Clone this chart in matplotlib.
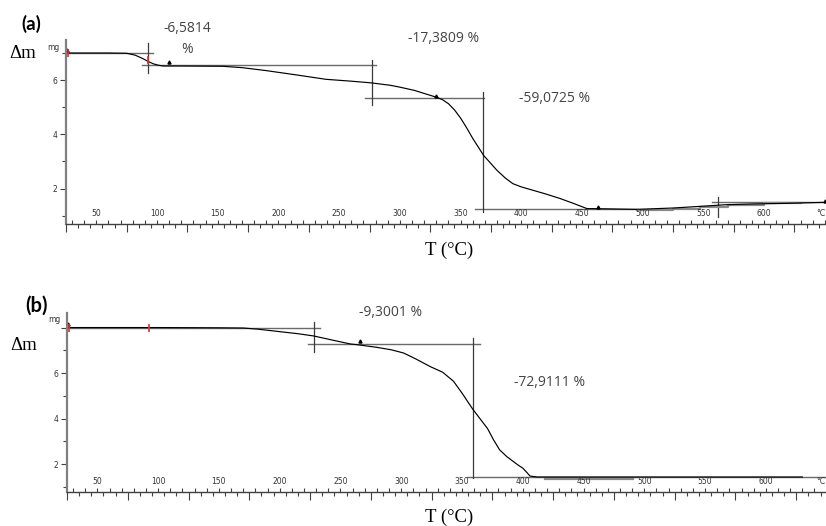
import matplotlib.pyplot as plt
import numpy as np

# ---- data (TGA curves, mass in mg vs temperature in C)
a_temp = [25.3, 40, 60, 75, 82, 88, 93, 97, 101, 105, 120, 154, 170, 190, 215,
          239, 260, 276, 292, 300, 312, 322, 330, 335, 340, 345, 350, 355, 360,
          365, 369, 375, 380, 387, 393, 400, 410, 420, 432, 443, 454, 470, 495,
          525, 547, 568, 590, 616, 651]
a_mass = [7.00, 7.00, 7.00, 6.99, 6.92, 6.80, 6.68, 6.60, 6.55, 6.52, 6.52, 6.51,
          6.46, 6.35, 6.19, 6.03, 5.96, 5.90, 5.81, 5.74, 5.62, 5.48, 5.37, 5.28,
          5.13, 4.90, 4.60, 4.24, 3.85, 3.50, 3.22, 2.92, 2.67, 2.38, 2.18, 2.06,
          1.93, 1.80, 1.63, 1.45, 1.26, 1.25, 1.23, 1.28, 1.34, 1.40, 1.43, 1.45,
          1.49]
a_step_temp = [495, 525, 525, 547, 547, 570, 570, 600, 600, 630]
a_step_mass = [1.21, 1.21, 1.26, 1.26, 1.32, 1.32, 1.39, 1.39, 1.45, 1.45]

b_temp = [25.3, 100, 150, 170, 182, 200, 215, 228, 245, 258, 266, 280, 292, 302,
          312, 324, 334, 343, 350, 359, 365, 371, 376, 381, 387, 392, 396, 400,
          403, 406, 412, 450, 500, 550, 630]
b_mass = [8.00, 8.00, 7.99, 7.98, 7.93, 7.82, 7.73, 7.63, 7.43, 7.28, 7.23, 7.13,
          7.02, 6.88, 6.62, 6.28, 6.04, 5.64, 5.12, 4.40, 3.98, 3.56, 3.06, 2.62,
          2.32, 2.12, 1.96, 1.82, 1.65, 1.47, 1.43, 1.43, 1.43, 1.43, 1.43]
b_step_temp = [418, 491]
b_step_mass = [1.36, 1.36]

# tangent / step construction lines: (mass, T start, T end) and (T, mass lo, mass hi)
a_hlines = [(7.00, 25.3, 96.5), (6.56, 87.5, 280), (5.34, 271, 369),
            (1.24, 362, 495), (1.49, 557, 651)]
a_vlines = [(92.8, 6.26, 7.37), (277, 5.07, 6.74), (368.5, 1.14, 5.57),
            (562, 0.94, 1.68)]
b_hlines = [(8.00, 25.3, 233), (7.26, 223, 365), (1.43, 354, 649.5)]
b_vlines = [(228.5, 6.94, 8.26), (359, 1.38, 7.52)]

a_marks_t = [25.8, 109.6, 329.6, 463, 650]
a_marks_m = [7.12, 6.66, 5.40, 1.32, 1.55]
a_red_t = [26.5, 92.6]
a_red_m = [7.00, 6.74]
b_marks_t = [26, 266]
b_marks_m = [8.14, 7.40]
b_red_t = [26.5, 92.8]
b_red_m = [8.00, 8.00]

a_steps = ["-6,5814\n%", "-17,3809 %", "-59,0725 %"]
b_steps = ["-9,3001 %", "-72,9111 %"]

x_labels = [50, 100, 150, 200, 250, 300, 350, 400, 450, 500, 550, 600]

W, H = 826, 526


def fx(px):
    return px / W


def fy(py):
    return 1 - py / H


def setup_axis(ax, xlim, ylim, yminor, label_off):
    ax.set_xlim(*xlim)
    ax.set_ylim(*ylim)
    for s in ["top", "right"]:
        ax.spines[s].set_visible(False)
    ax.spines["left"].set_color("#808080")
    ax.spines["left"].set_linewidth(1.6)
    ax.spines["bottom"].set_color("#404040")
    ax.spines["bottom"].set_linewidth(1.0)
    ax.set_facecolor("none")

    # y ticks
    ax.set_yticks([2, 4, 6])
    ax.set_yticks(yminor, minor=True)
    ax.tick_params(axis="y", which="major", length=4, width=0.8, color="#404040",
                   labelsize=5.5, pad=2, labelcolor="#333333")
    ax.tick_params(axis="y", which="minor", length=3, width=0.8, color="#404040")

    # x ticks: long outward every 50 from 25, short outward every 10
    ax.set_xticks(np.arange(25, 651, 50))
    ax.set_xticks(np.arange(35, 651, 10), minor=True)
    ax.tick_params(axis="x", which="major", length=6, width=0.8, color="#404040",
                   labelbottom=False)
    ax.tick_params(axis="x", which="minor", length=3, width=0.8, color="#404040")
    sec = ax.secondary_xaxis("bottom")
    sec.set_xticks(np.arange(30, 651, 10))
    sec.tick_params(direction="in", length=3, width=0.8, color="#404040",
                    labelbottom=False)
    sec.spines["bottom"].set_visible(False)

    trans = ax.get_xaxis_transform()
    for t in x_labels:
        ax.text(t, label_off, str(t), transform=trans, ha="center", va="center",
                fontsize=5.5, color="#333333")
    ax.text(xlim[1] - 4, label_off, "°C", transform=trans, ha="center",
            va="center", fontsize=5.5, color="#333333", clip_on=False)


def draw_panel(ax, temp, mass, st, sm, hl, vl, mt, mm, rt, rm):
    for m, t0, t1 in hl:
        ax.plot([t0, t1], [m, m], color="#6a6a6a", lw=1.0, clip_on=False)
    for t, m0, m1 in vl:
        ax.plot([t, t], [m0, m1], color="#3a3a3a", lw=0.9, clip_on=False)
    ax.plot(st, sm, color="#8a8a8a", lw=1.6, clip_on=False)
    ax.plot(temp, mass, color="black", lw=0.85, clip_on=False)
    ax.plot(mt, mm, ls="none", marker="^", ms=2.2, color="black", clip_on=False)
    ax.plot(rt, rm, ls="none", marker="|", ms=6, mew=1.2, color="#e03030",
            clip_on=False, zorder=5)


plt.rcParams["font.family"] = ["DejaVu Sans"]
fig = plt.figure(figsize=(W / 100, H / 100), dpi=100)

# panel (a)
ax_a = fig.add_axes([fx(66), fy(224), fx(826 - 66), (224 - 40) / H])
setup_axis(ax_a, (25.3, 651), (0.69, 7.48), [1, 3, 5, 7], 11 / 184)
draw_panel(ax_a, a_temp, a_mass, a_step_temp, a_step_mass, a_hlines, a_vlines,
           a_marks_t, a_marks_m, a_red_t, a_red_m)

# panel (b)
ax_b = fig.add_axes([fx(67), fy(492), fx(826 - 67), (492 - 313) / H])
setup_axis(ax_b, (25.3, 649.5), (0.77, 8.64), [1, 3, 5, 7], 10 / 179)
ax_b.set_yticks([2, 4, 6, 8])
ax_b.set_yticklabels(["2", "4", "6", ""])
draw_panel(ax_b, b_temp, b_mass, b_step_temp, b_step_mass, b_hlines, b_vlines,
           b_marks_t, b_marks_m, b_red_t, b_red_m)

# annotations
pct = dict(ha="center", va="center", fontsize=10, color="#444444",
           family=["Open Sans", "DejaVu Sans"])
fig.text(fx(187), fy(39), a_steps[0], linespacing=1.55, **pct)
fig.text(fx(444), fy(38), a_steps[1], **pct)
fig.text(fx(555), fy(98), a_steps[2], **pct)
fig.text(fx(391), fy(312), b_steps[0], **pct)
fig.text(fx(550), fy(382), b_steps[1], **pct)

serif = dict(ha="center", va="center", fontsize=13.5, color="black",
             family=["Liberation Serif", "DejaVu Serif"])
fig.text(fx(23), fy(54), "Δm", **serif)
fig.text(fx(24), fy(345), "Δm", **serif)
fig.text(fx(449), fy(250), "T (°C)", **serif)
fig.text(fx(449), fy(517), "T (°C)", **serif)

bold = dict(ha="center", va="center", fontweight="bold", color="black",
            family=["Lato", "DejaVu Sans"])
fig.text(fx(31), fy(24), "(a)", fontsize=13.5, **bold)
fig.text(fx(36), fy(306), "(b)", fontsize=14.5, **bold)

small = dict(ha="center", va="center", fontsize=5.5, color="#333333")
fig.text(fx(53), fy(47), "mg", **small)
fig.text(fx(54), fy(319), "mg", **small)

fig.savefig("out.png", dpi=100)
